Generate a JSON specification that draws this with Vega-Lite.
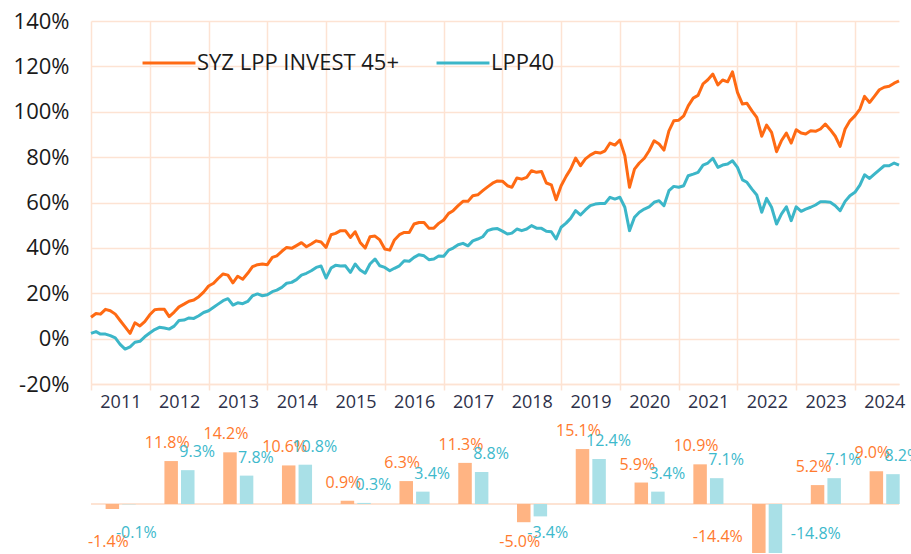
{
  "$schema": "https://vega.github.io/schema/vega-lite/v6.json",
  "padding": {"left": 13, "top": 10, "right": 0, "bottom": 0},
  "bounds": "flush",
  "spacing": 30,
  "config": {
    "view": {"stroke": null},
    "font": "Open Sans",
    "locale": {"number": {"decimal": ".", "thousands": ",", "grouping": [3], "currency": ["$", ""], "minus": "-"}}
  },
  "datasets": {
    "lines": [
      {"d": "2011-01", "SYZ LPP INVEST 45+": 9.4, "LPP40": 2.3},
      {"d": "2011-02", "SYZ LPP INVEST 45+": 11.1, "LPP40": 3.1},
      {"d": "2011-03", "SYZ LPP INVEST 45+": 10.8, "LPP40": 2.0},
      {"d": "2011-04", "SYZ LPP INVEST 45+": 12.9, "LPP40": 2.0},
      {"d": "2011-05", "SYZ LPP INVEST 45+": 12.3, "LPP40": 1.3},
      {"d": "2011-06", "SYZ LPP INVEST 45+": 10.8, "LPP40": 0.3},
      {"d": "2011-07", "SYZ LPP INVEST 45+": 8.0, "LPP40": -2.5},
      {"d": "2011-08", "SYZ LPP INVEST 45+": 5.2, "LPP40": -4.6},
      {"d": "2011-09", "SYZ LPP INVEST 45+": 2.3, "LPP40": -3.6},
      {"d": "2011-10", "SYZ LPP INVEST 45+": 7.0, "LPP40": -1.6},
      {"d": "2011-11", "SYZ LPP INVEST 45+": 5.6, "LPP40": -1.2},
      {"d": "2011-12", "SYZ LPP INVEST 45+": 7.5, "LPP40": 0.8},
      {"d": "2012-01", "SYZ LPP INVEST 45+": 10.5, "LPP40": 2.5},
      {"d": "2012-02", "SYZ LPP INVEST 45+": 12.7, "LPP40": 4.0},
      {"d": "2012-03", "SYZ LPP INVEST 45+": 13.0, "LPP40": 5.0},
      {"d": "2012-04", "SYZ LPP INVEST 45+": 12.9, "LPP40": 4.7},
      {"d": "2012-05", "SYZ LPP INVEST 45+": 9.7, "LPP40": 4.2},
      {"d": "2012-06", "SYZ LPP INVEST 45+": 11.7, "LPP40": 5.5},
      {"d": "2012-07", "SYZ LPP INVEST 45+": 14.0, "LPP40": 8.0},
      {"d": "2012-08", "SYZ LPP INVEST 45+": 15.2, "LPP40": 8.2},
      {"d": "2012-09", "SYZ LPP INVEST 45+": 16.5, "LPP40": 9.1},
      {"d": "2012-10", "SYZ LPP INVEST 45+": 17.0, "LPP40": 8.9},
      {"d": "2012-11", "SYZ LPP INVEST 45+": 18.5, "LPP40": 10.1},
      {"d": "2012-12", "SYZ LPP INVEST 45+": 20.5, "LPP40": 11.5},
      {"d": "2013-01", "SYZ LPP INVEST 45+": 23.2, "LPP40": 12.3},
      {"d": "2013-02", "SYZ LPP INVEST 45+": 24.4, "LPP40": 13.8},
      {"d": "2013-03", "SYZ LPP INVEST 45+": 26.5, "LPP40": 15.2},
      {"d": "2013-04", "SYZ LPP INVEST 45+": 28.5, "LPP40": 16.7},
      {"d": "2013-05", "SYZ LPP INVEST 45+": 28.0, "LPP40": 17.6},
      {"d": "2013-06", "SYZ LPP INVEST 45+": 24.6, "LPP40": 14.8},
      {"d": "2013-07", "SYZ LPP INVEST 45+": 27.5, "LPP40": 15.8},
      {"d": "2013-08", "SYZ LPP INVEST 45+": 26.2, "LPP40": 15.4},
      {"d": "2013-09", "SYZ LPP INVEST 45+": 28.8, "LPP40": 16.4},
      {"d": "2013-10", "SYZ LPP INVEST 45+": 31.7, "LPP40": 18.9},
      {"d": "2013-11", "SYZ LPP INVEST 45+": 32.6, "LPP40": 19.7},
      {"d": "2013-12", "SYZ LPP INVEST 45+": 32.9, "LPP40": 18.9},
      {"d": "2014-01", "SYZ LPP INVEST 45+": 32.6, "LPP40": 19.3},
      {"d": "2014-02", "SYZ LPP INVEST 45+": 35.8, "LPP40": 20.7},
      {"d": "2014-03", "SYZ LPP INVEST 45+": 36.5, "LPP40": 21.4},
      {"d": "2014-04", "SYZ LPP INVEST 45+": 38.5, "LPP40": 22.6},
      {"d": "2014-05", "SYZ LPP INVEST 45+": 40.2, "LPP40": 24.4},
      {"d": "2014-06", "SYZ LPP INVEST 45+": 39.8, "LPP40": 24.8},
      {"d": "2014-07", "SYZ LPP INVEST 45+": 41.0, "LPP40": 26.0},
      {"d": "2014-08", "SYZ LPP INVEST 45+": 42.3, "LPP40": 28.0},
      {"d": "2014-09", "SYZ LPP INVEST 45+": 40.5, "LPP40": 28.8},
      {"d": "2014-10", "SYZ LPP INVEST 45+": 41.7, "LPP40": 29.9},
      {"d": "2014-11", "SYZ LPP INVEST 45+": 43.1, "LPP40": 31.4},
      {"d": "2014-12", "SYZ LPP INVEST 45+": 42.6, "LPP40": 32.0},
      {"d": "2015-01", "SYZ LPP INVEST 45+": 40.2, "LPP40": 26.7},
      {"d": "2015-02", "SYZ LPP INVEST 45+": 45.8, "LPP40": 31.1},
      {"d": "2015-03", "SYZ LPP INVEST 45+": 46.4, "LPP40": 32.3},
      {"d": "2015-04", "SYZ LPP INVEST 45+": 47.6, "LPP40": 32.0},
      {"d": "2015-05", "SYZ LPP INVEST 45+": 47.6, "LPP40": 32.1},
      {"d": "2015-06", "SYZ LPP INVEST 45+": 44.6, "LPP40": 29.2},
      {"d": "2015-07", "SYZ LPP INVEST 45+": 47.1, "LPP40": 32.9},
      {"d": "2015-08", "SYZ LPP INVEST 45+": 42.4, "LPP40": 30.2},
      {"d": "2015-09", "SYZ LPP INVEST 45+": 39.9, "LPP40": 28.8},
      {"d": "2015-10", "SYZ LPP INVEST 45+": 44.9, "LPP40": 32.9},
      {"d": "2015-11", "SYZ LPP INVEST 45+": 45.2, "LPP40": 35.1},
      {"d": "2015-12", "SYZ LPP INVEST 45+": 43.5, "LPP40": 32.1},
      {"d": "2016-01", "SYZ LPP INVEST 45+": 39.5, "LPP40": 31.4},
      {"d": "2016-02", "SYZ LPP INVEST 45+": 39.0, "LPP40": 29.9},
      {"d": "2016-03", "SYZ LPP INVEST 45+": 43.5, "LPP40": 31.0},
      {"d": "2016-04", "SYZ LPP INVEST 45+": 45.8, "LPP40": 32.1},
      {"d": "2016-05", "SYZ LPP INVEST 45+": 46.8, "LPP40": 34.3},
      {"d": "2016-06", "SYZ LPP INVEST 45+": 46.8, "LPP40": 34.1},
      {"d": "2016-07", "SYZ LPP INVEST 45+": 50.5, "LPP40": 35.8},
      {"d": "2016-08", "SYZ LPP INVEST 45+": 51.2, "LPP40": 37.0},
      {"d": "2016-09", "SYZ LPP INVEST 45+": 51.2, "LPP40": 36.5},
      {"d": "2016-10", "SYZ LPP INVEST 45+": 48.7, "LPP40": 34.8},
      {"d": "2016-11", "SYZ LPP INVEST 45+": 48.7, "LPP40": 35.1},
      {"d": "2016-12", "SYZ LPP INVEST 45+": 50.8, "LPP40": 36.4},
      {"d": "2017-01", "SYZ LPP INVEST 45+": 52.3, "LPP40": 36.3},
      {"d": "2017-02", "SYZ LPP INVEST 45+": 55.2, "LPP40": 39.0},
      {"d": "2017-03", "SYZ LPP INVEST 45+": 56.4, "LPP40": 39.9},
      {"d": "2017-04", "SYZ LPP INVEST 45+": 58.6, "LPP40": 41.4},
      {"d": "2017-05", "SYZ LPP INVEST 45+": 60.5, "LPP40": 42.0},
      {"d": "2017-06", "SYZ LPP INVEST 45+": 60.5, "LPP40": 40.9},
      {"d": "2017-07", "SYZ LPP INVEST 45+": 63.0, "LPP40": 43.1},
      {"d": "2017-08", "SYZ LPP INVEST 45+": 63.4, "LPP40": 43.9},
      {"d": "2017-09", "SYZ LPP INVEST 45+": 65.2, "LPP40": 44.9},
      {"d": "2017-10", "SYZ LPP INVEST 45+": 66.9, "LPP40": 47.6},
      {"d": "2017-11", "SYZ LPP INVEST 45+": 68.5, "LPP40": 48.3},
      {"d": "2017-12", "SYZ LPP INVEST 45+": 69.5, "LPP40": 48.5},
      {"d": "2018-01", "SYZ LPP INVEST 45+": 69.4, "LPP40": 47.4},
      {"d": "2018-02", "SYZ LPP INVEST 45+": 67.4, "LPP40": 46.1},
      {"d": "2018-03", "SYZ LPP INVEST 45+": 66.7, "LPP40": 46.5},
      {"d": "2018-04", "SYZ LPP INVEST 45+": 70.8, "LPP40": 48.3},
      {"d": "2018-05", "SYZ LPP INVEST 45+": 70.3, "LPP40": 47.6},
      {"d": "2018-06", "SYZ LPP INVEST 45+": 71.1, "LPP40": 48.3},
      {"d": "2018-07", "SYZ LPP INVEST 45+": 74.0, "LPP40": 49.8},
      {"d": "2018-08", "SYZ LPP INVEST 45+": 73.3, "LPP40": 48.7},
      {"d": "2018-09", "SYZ LPP INVEST 45+": 73.7, "LPP40": 48.6},
      {"d": "2018-10", "SYZ LPP INVEST 45+": 68.6, "LPP40": 47.3},
      {"d": "2018-11", "SYZ LPP INVEST 45+": 67.8, "LPP40": 47.1},
      {"d": "2018-12", "SYZ LPP INVEST 45+": 61.2, "LPP40": 43.9},
      {"d": "2019-01", "SYZ LPP INVEST 45+": 67.4, "LPP40": 49.1},
      {"d": "2019-02", "SYZ LPP INVEST 45+": 71.5, "LPP40": 50.9},
      {"d": "2019-03", "SYZ LPP INVEST 45+": 74.7, "LPP40": 53.0},
      {"d": "2019-04", "SYZ LPP INVEST 45+": 79.6, "LPP40": 56.4},
      {"d": "2019-05", "SYZ LPP INVEST 45+": 76.2, "LPP40": 54.5},
      {"d": "2019-06", "SYZ LPP INVEST 45+": 79.2, "LPP40": 56.7},
      {"d": "2019-07", "SYZ LPP INVEST 45+": 80.9, "LPP40": 58.6},
      {"d": "2019-08", "SYZ LPP INVEST 45+": 82.1, "LPP40": 59.3},
      {"d": "2019-09", "SYZ LPP INVEST 45+": 81.8, "LPP40": 59.6},
      {"d": "2019-10", "SYZ LPP INVEST 45+": 82.8, "LPP40": 59.6},
      {"d": "2019-11", "SYZ LPP INVEST 45+": 86.2, "LPP40": 62.3},
      {"d": "2019-12", "SYZ LPP INVEST 45+": 85.3, "LPP40": 61.5},
      {"d": "2020-01", "SYZ LPP INVEST 45+": 87.5, "LPP40": 62.3},
      {"d": "2020-02", "SYZ LPP INVEST 45+": 80.6, "LPP40": 57.9},
      {"d": "2020-03", "SYZ LPP INVEST 45+": 66.7, "LPP40": 47.6},
      {"d": "2020-04", "SYZ LPP INVEST 45+": 74.7, "LPP40": 53.5},
      {"d": "2020-05", "SYZ LPP INVEST 45+": 77.4, "LPP40": 55.7},
      {"d": "2020-06", "SYZ LPP INVEST 45+": 79.5, "LPP40": 57.1},
      {"d": "2020-07", "SYZ LPP INVEST 45+": 82.8, "LPP40": 58.1},
      {"d": "2020-08", "SYZ LPP INVEST 45+": 87.2, "LPP40": 60.1},
      {"d": "2020-09", "SYZ LPP INVEST 45+": 85.8, "LPP40": 60.8},
      {"d": "2020-10", "SYZ LPP INVEST 45+": 83.1, "LPP40": 58.6},
      {"d": "2020-11", "SYZ LPP INVEST 45+": 91.6, "LPP40": 65.2},
      {"d": "2020-12", "SYZ LPP INVEST 45+": 96.0, "LPP40": 67.1},
      {"d": "2021-01", "SYZ LPP INVEST 45+": 96.3, "LPP40": 66.7},
      {"d": "2021-02", "SYZ LPP INVEST 45+": 98.2, "LPP40": 67.4},
      {"d": "2021-03", "SYZ LPP INVEST 45+": 102.6, "LPP40": 71.8},
      {"d": "2021-04", "SYZ LPP INVEST 45+": 106.0, "LPP40": 72.5},
      {"d": "2021-05", "SYZ LPP INVEST 45+": 107.2, "LPP40": 73.3},
      {"d": "2021-06", "SYZ LPP INVEST 45+": 112.3, "LPP40": 76.5},
      {"d": "2021-07", "SYZ LPP INVEST 45+": 114.1, "LPP40": 77.4},
      {"d": "2021-08", "SYZ LPP INVEST 45+": 116.6, "LPP40": 79.5},
      {"d": "2021-09", "SYZ LPP INVEST 45+": 111.8, "LPP40": 75.5},
      {"d": "2021-10", "SYZ LPP INVEST 45+": 114.0, "LPP40": 76.5},
      {"d": "2021-11", "SYZ LPP INVEST 45+": 113.2, "LPP40": 77.0},
      {"d": "2021-12", "SYZ LPP INVEST 45+": 117.6, "LPP40": 78.4},
      {"d": "2022-01", "SYZ LPP INVEST 45+": 108.5, "LPP40": 75.5},
      {"d": "2022-02", "SYZ LPP INVEST 45+": 103.4, "LPP40": 70.0},
      {"d": "2022-03", "SYZ LPP INVEST 45+": 103.7, "LPP40": 68.9},
      {"d": "2022-04", "SYZ LPP INVEST 45+": 100.4, "LPP40": 65.9},
      {"d": "2022-05", "SYZ LPP INVEST 45+": 97.5, "LPP40": 63.3},
      {"d": "2022-06", "SYZ LPP INVEST 45+": 89.2, "LPP40": 55.7},
      {"d": "2022-07", "SYZ LPP INVEST 45+": 94.1, "LPP40": 61.8},
      {"d": "2022-08", "SYZ LPP INVEST 45+": 90.9, "LPP40": 57.9},
      {"d": "2022-09", "SYZ LPP INVEST 45+": 82.4, "LPP40": 50.5},
      {"d": "2022-10", "SYZ LPP INVEST 45+": 87.2, "LPP40": 54.9},
      {"d": "2022-11", "SYZ LPP INVEST 45+": 90.6, "LPP40": 58.1},
      {"d": "2022-12", "SYZ LPP INVEST 45+": 86.2, "LPP40": 52.0},
      {"d": "2023-01", "SYZ LPP INVEST 45+": 92.1, "LPP40": 58.1},
      {"d": "2023-02", "SYZ LPP INVEST 45+": 90.6, "LPP40": 56.1},
      {"d": "2023-03", "SYZ LPP INVEST 45+": 90.2, "LPP40": 57.1},
      {"d": "2023-04", "SYZ LPP INVEST 45+": 91.6, "LPP40": 57.9},
      {"d": "2023-05", "SYZ LPP INVEST 45+": 91.4, "LPP40": 58.9},
      {"d": "2023-06", "SYZ LPP INVEST 45+": 92.4, "LPP40": 60.3},
      {"d": "2023-07", "SYZ LPP INVEST 45+": 94.6, "LPP40": 60.3},
      {"d": "2023-08", "SYZ LPP INVEST 45+": 92.1, "LPP40": 60.1},
      {"d": "2023-09", "SYZ LPP INVEST 45+": 89.2, "LPP40": 58.6},
      {"d": "2023-10", "SYZ LPP INVEST 45+": 84.7, "LPP40": 56.4},
      {"d": "2023-11", "SYZ LPP INVEST 45+": 92.4, "LPP40": 60.5},
      {"d": "2023-12", "SYZ LPP INVEST 45+": 96.0, "LPP40": 63.0},
      {"d": "2024-01", "SYZ LPP INVEST 45+": 98.2, "LPP40": 64.5},
      {"d": "2024-02", "SYZ LPP INVEST 45+": 101.2, "LPP40": 67.7},
      {"d": "2024-03", "SYZ LPP INVEST 45+": 106.8, "LPP40": 72.2},
      {"d": "2024-04", "SYZ LPP INVEST 45+": 104.1, "LPP40": 70.6},
      {"d": "2024-05", "SYZ LPP INVEST 45+": 106.8, "LPP40": 72.5},
      {"d": "2024-06", "SYZ LPP INVEST 45+": 109.7, "LPP40": 74.4},
      {"d": "2024-07", "SYZ LPP INVEST 45+": 110.8, "LPP40": 76.2},
      {"d": "2024-08", "SYZ LPP INVEST 45+": 111.2, "LPP40": 76.2},
      {"d": "2024-09", "SYZ LPP INVEST 45+": 112.6, "LPP40": 77.4},
      {"d": "2024-10", "SYZ LPP INVEST 45+": 113.6, "LPP40": 76.5}
    ],
    "bars": [
      {"y": "2011", "a": -0.014, "b": -0.001},
      {"y": "2012", "a": 0.118, "b": 0.093},
      {"y": "2013", "a": 0.142, "b": 0.078},
      {"y": "2014", "a": 0.106, "b": 0.108},
      {"y": "2015", "a": 0.009, "b": 0.003},
      {"y": "2016", "a": 0.063, "b": 0.034},
      {"y": "2017", "a": 0.113, "b": 0.088},
      {"y": "2018", "a": -0.050, "b": -0.034},
      {"y": "2019", "a": 0.151, "b": 0.124},
      {"y": "2020", "a": 0.059, "b": 0.034},
      {"y": "2021", "a": 0.109, "b": 0.071},
      {"y": "2022", "a": -0.144, "b": -0.148},
      {"y": "2023", "a": 0.052, "b": 0.071},
      {"y": "2024", "a": 0.090, "b": 0.082}
    ]
  },
  "vconcat": [
    {
      "width": 808,
      "height": 363,
      "data": {"name": "lines"},
      "transform": [{"fold": ["SYZ LPP INVEST 45+", "LPP40"], "as": ["s", "v"]}],
      "mark": {"type": "line", "strokeWidth": 3, "strokeJoin": "round"},
      "encoding": {
        "x": {
          "field": "d", "type": "temporal",
          "scale": {"type": "utc", "domain": [{"year": 2011, "month": 1, "date": 1, "utc": true}, {"year": 2024, "month": 10, "date": 1, "utc": true}]},
          "axis": {
            "title": null, "format": "%Y",
            "values": [
              {"year": 2011, "month": 1, "date": 1, "utc": true},
              {"year": 2012, "month": 1, "date": 1, "utc": true},
              {"year": 2013, "month": 1, "date": 1, "utc": true},
              {"year": 2014, "month": 1, "date": 1, "utc": true},
              {"year": 2015, "month": 1, "date": 1, "utc": true},
              {"year": 2016, "month": 1, "date": 1, "utc": true},
              {"year": 2017, "month": 1, "date": 1, "utc": true},
              {"year": 2018, "month": 1, "date": 1, "utc": true},
              {"year": 2019, "month": 1, "date": 1, "utc": true},
              {"year": 2020, "month": 1, "date": 1, "utc": true},
              {"year": 2021, "month": 1, "date": 1, "utc": true},
              {"year": 2022, "month": 1, "date": 1, "utc": true},
              {"year": 2023, "month": 1, "date": 1, "utc": true},
              {"year": 2024, "month": 1, "date": 1, "utc": true}
            ],
            "labelOffset": 29.4, "labelFlush": false, "labelOverlap": false, "labelBound": false,
            "grid": true, "gridColor": "#FDE3D3", "gridWidth": 1.5,
            "ticks": true, "tickSize": 6, "tickColor": "#FDE3D3", "tickWidth": 1.5,
            "domain": true, "domainColor": "#FDE3D3", "domainWidth": 1.5,
            "labelFontSize": 18, "labelColor": "#2D3049", "labelPadding": 3
          }
        },
        "y": {
          "field": "v", "type": "quantitative",
          "scale": {"domain": [-20, 140], "nice": false},
          "axis": {
            "title": null, "values": [-20, 0, 20, 40, 60, 80, 100, 120, 140],
            "labelExpr": "datum.value + '%'",
            "grid": true, "gridColor": "#FDE3D3", "gridWidth": 1.5,
            "ticks": false, "domain": false,
            "labelFontSize": 22, "labelColor": "#1A1A1A", "labelPadding": 22
          }
        },
        "color": {
          "field": "s", "type": "nominal",
          "scale": {"domain": ["SYZ LPP INVEST 45+", "LPP40"], "range": ["#FF6A13", "#3CB6C8"]},
          "legend": {
            "title": null, "orient": "none", "legendX": 50, "legendY": 14,
            "direction": "horizontal", "symbolType": "stroke", "symbolStrokeWidth": 3,
            "symbolSize": 2800, "labelFontSize": 22, "labelColor": "#1A1A1A",
            "columnPadding": 30, "labelOffset": 0, "labelLimit": 400
          }
        }
      }
    },
    {
      "width": 808,
      "height": 139,
      "data": {"name": "bars"},
      "layer": [
        {
          "mark": {"type": "rule", "color": "#FDE3D3", "strokeWidth": 1.5},
          "encoding": {"y": {"datum": 0, "type": "quantitative", "scale": {"domain": [-0.1346, 0.2473], "nice": false, "clamp": true}, "axis": null}}
        },
        {
          "mark": {"type": "bar", "width": 13.5, "xOffset": -8, "color": "#FFB483"},
          "encoding": {
            "x": {"field": "y", "type": "temporal", "timeUnit": "utcyear", "bandPosition": 0.5, "scale": {"type": "utc", "domain": [{"year": 2011, "month": 1, "date": 1, "utc": true}, {"year": 2024, "month": 10, "date": 1, "utc": true}]}, "axis": null},
            "y": {"field": "a", "type": "quantitative", "axis": null}
          }
        },
        {
          "mark": {"type": "bar", "width": 13.5, "xOffset": 8.6, "color": "#A9E0E7"},
          "encoding": {
            "x": {"field": "y", "type": "temporal", "timeUnit": "utcyear", "bandPosition": 0.5, "axis": null},
            "y": {"field": "b", "type": "quantitative", "axis": null}
          }
        },
        {
          "transform": [{"filter": "datum.a >= 0"}],
          "mark": {"type": "text", "dx": -12, "dy": -18, "fontSize": 16, "color": "#FF7A2E"},
          "encoding": {
            "x": {"field": "y", "type": "temporal", "timeUnit": "utcyear", "bandPosition": 0.5, "axis": null},
            "y": {"field": "a", "type": "quantitative", "axis": null},
            "text": {"field": "a", "type": "quantitative", "format": ".1%"}
          }
        },
        {
          "transform": [{"filter": "datum.b >= 0"}],
          "mark": {"type": "text", "dx": 18, "dy": -18, "fontSize": 16, "color": "#3DB9CC"},
          "encoding": {
            "x": {"field": "y", "type": "temporal", "timeUnit": "utcyear", "bandPosition": 0.5, "axis": null},
            "y": {"field": "b", "type": "quantitative", "axis": null},
            "text": {"field": "b", "type": "quantitative", "format": ".1%"}
          }
        },
        {
          "transform": [{"filter": "datum.a < 0 && datum.a > -0.1"}],
          "mark": {"type": "text", "dx": -12, "fontSize": 16, "color": "#FF7A2E"},
          "encoding": {
            "x": {"field": "y", "type": "temporal", "timeUnit": "utcyear", "bandPosition": 0.5, "axis": null},
            "y": {"datum": -0.105, "type": "quantitative", "axis": null},
            "text": {"field": "a", "type": "quantitative", "format": ".1%"}
          }
        },
        {
          "transform": [{"filter": "datum.b < 0 && datum.b > -0.1"}],
          "mark": {"type": "text", "dx": 16, "fontSize": 16, "color": "#3DB9CC"},
          "encoding": {
            "x": {"field": "y", "type": "temporal", "timeUnit": "utcyear", "bandPosition": 0.5, "axis": null},
            "y": {"datum": -0.08, "type": "quantitative", "axis": null},
            "text": {"field": "b", "type": "quantitative", "format": ".1%"}
          }
        },
        {
          "transform": [{"filter": "datum.a <= -0.1"}],
          "mark": {"type": "text", "dx": -49, "fontSize": 16, "color": "#FF7A2E"},
          "encoding": {
            "x": {"field": "y", "type": "temporal", "timeUnit": "utcyear", "bandPosition": 0.5, "axis": null},
            "y": {"datum": -0.09, "type": "quantitative", "axis": null},
            "text": {"field": "a", "type": "quantitative", "format": ".1%"}
          }
        },
        {
          "transform": [{"filter": "datum.b <= -0.1"}],
          "mark": {"type": "text", "dx": 49, "fontSize": 16, "color": "#3DB9CC"},
          "encoding": {
            "x": {"field": "y", "type": "temporal", "timeUnit": "utcyear", "bandPosition": 0.5, "axis": null},
            "y": {"datum": -0.083, "type": "quantitative", "axis": null},
            "text": {"field": "b", "type": "quantitative", "format": ".1%"}
          }
        }
      ]
    }
  ]
}
